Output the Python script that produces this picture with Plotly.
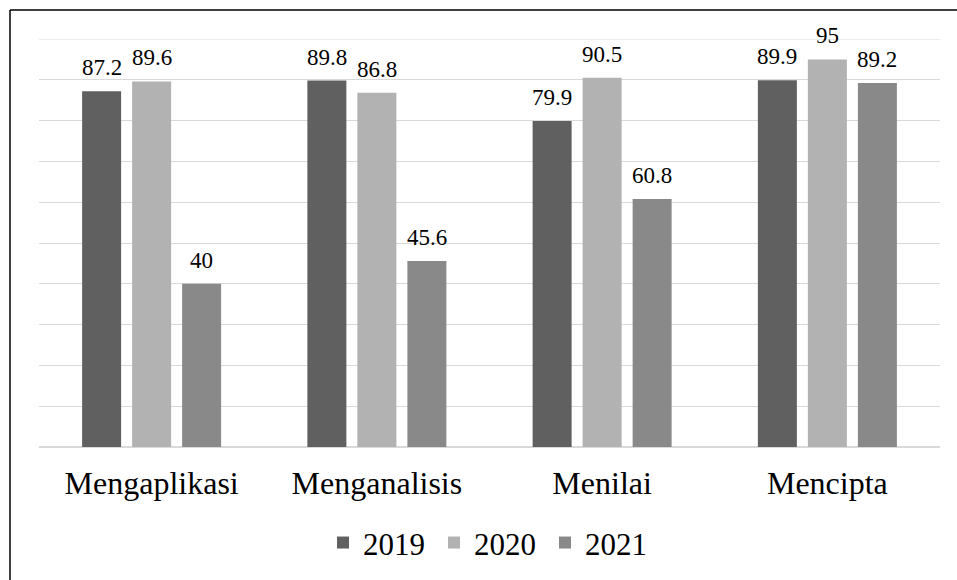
import plotly.graph_objects as go

categories = ["Mengaplikasi", "Menganalisis", "Menilai", "Mencipta"]
years = ["2019", "2020", "2021"]
values_2019 = [87.2, 89.8, 79.9, 89.9]
values_2020 = [89.6, 86.8, 90.5, 95]
values_2021 = [40, 45.6, 60.8, 89.2]
colors = ["#606060", "#b2b2b2", "#898989"]
y_max = 100

W, H = 957, 580
ML, MR, MT, MB = 39, 17, 39, 133
SERIF = "Liberation Serif"
GRID = "#d9d9d9"
BARGAP, GROUPGAP = 0.334, 0.22

series = [values_2019, values_2020, values_2021]
pw, ph = W - ML - MR, H - MT - MB
# width of one bar slot inside a category group, in pixels
slot_px = pw / len(categories) * (1 - BARGAP) / len(series)

fig = go.Figure()
for j, (name, vals, col) in enumerate(zip(years, series, colors)):
    fig.add_trace(go.Bar(
        x=categories, y=vals, name=name,
        marker=dict(color=col, line=dict(width=0)),
        cliponaxis=False,
    ))
    # value labels above each bar
    for cat, v in zip(categories, vals):
        fig.add_annotation(
            x=cat, y=v, xref="x", yref="y", text=f"{v:g}", showarrow=False,
            xanchor="center", yanchor="bottom",
            xshift=(j - (len(series) - 1) / 2) * slot_px, yshift=9,
            font=dict(family=SERIF, size=23, color="#000000"),
        )

# gridline along the top of the value range
fig.add_shape(type="line", xref="paper", yref="y", x0=0, x1=1, y0=y_max, y1=y_max,
              line=dict(color=GRID, width=1), layer="below")

# frame around the chart (top and left edges)
fx0 = (10 - ML) / pw
fy1 = 1 + (MT - 10) / ph
fig.add_shape(type="line", xref="paper", yref="paper", x0=fx0, x1=1.2, y0=fy1, y1=fy1,
              line=dict(color="#000000", width=1.5))
fig.add_shape(type="line", xref="paper", yref="paper", x0=fx0, x1=fx0, y0=fy1, y1=-0.5,
              line=dict(color="#000000", width=1.5))

fig.update_layout(
    width=W, height=H,
    margin=dict(l=ML, r=MR, t=MT, b=MB, autoexpand=False),
    paper_bgcolor="#ffffff", plot_bgcolor="#ffffff",
    barmode="group", bargap=BARGAP, bargroupgap=GROUPGAP,
    font=dict(family=SERIF, color="#000000"),
    showlegend=True,
    legend=dict(
        orientation="h", x=0.5, xanchor="center", y=-0.235, yanchor="middle",
        font=dict(family=SERIF, size=31, color="#000000"),
        entrywidth=66,
    ),
)
fig.update_yaxes(range=[0, y_max], dtick=10, showticklabels=False, showgrid=True,
                 gridcolor=GRID, gridwidth=1, zeroline=True, zerolinecolor=GRID,
                 zerolinewidth=1.5, showline=False, ticks="", automargin=False)
fig.update_xaxes(showline=False, ticks="", automargin=False,
                 tickfont=dict(family=SERIF, size=32, color="#000000"),
                 ticklabelstandoff=14)

fig.write_html("out.html")
